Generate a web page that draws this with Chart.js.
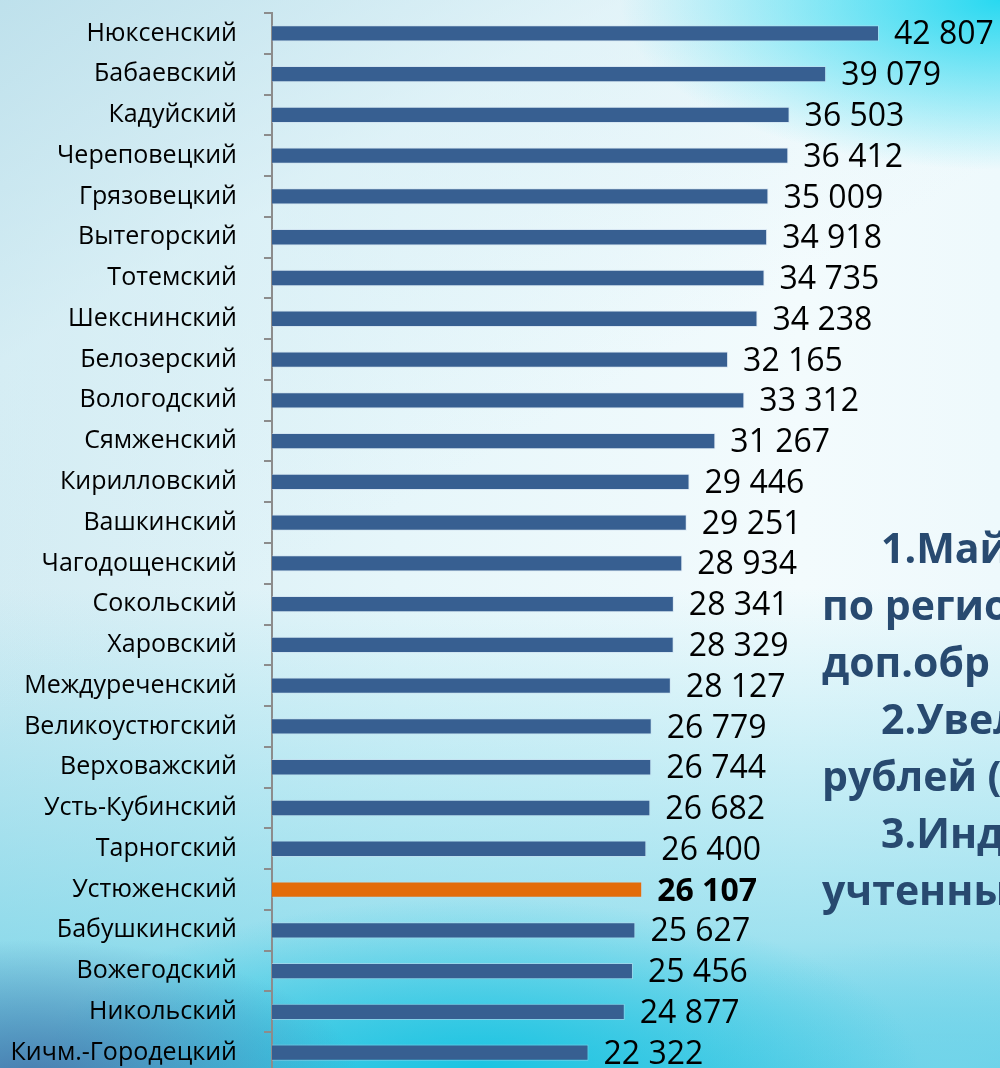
<!DOCTYPE html>
<html lang="ru">
<head>
<meta charset="utf-8">
<title>Районы</title>
<script src="https://cdn.jsdelivr.net/npm/chart.js@4/dist/chart.umd.min.js"></script>
<style>
  html, body { margin:0; padding:0; }
  body { width:1000px; height:1068px; overflow:hidden; position:relative; font-family:'Open Sans', sans-serif; }
  #bg {
    position:absolute; left:0; top:0; width:1000px; height:1068px;
    background:
      radial-gradient(ellipse 330px 140px at 30px 1080px, rgba(70,110,165,0.85), rgba(70,110,165,0) 100%),
      radial-gradient(ellipse 380px 170px at 1000px 0px, rgba(30,215,240,0.95), rgba(30,215,240,0) 100%),
      radial-gradient(ellipse 440px 170px at 480px 1068px, rgba(20,195,225,0.9), rgba(20,195,225,0) 100%),
      radial-gradient(ellipse 300px 130px at 950px 1068px, rgba(120,215,235,0.7), rgba(120,215,235,0) 100%),
      linear-gradient(150deg, rgba(185,222,234,0.8) 0%, rgba(215,238,245,0.5) 22%, rgba(240,250,252,0) 45%),
      linear-gradient(to bottom, rgba(0,0,0,0) 0%, rgba(0,0,0,0) 55%, rgba(90,205,228,0.55) 88%, rgba(60,195,225,0.8) 100%),
      linear-gradient(to right, #d3ecf3 0%, #e6f6fa 40%, #f3fbfd 80%, #eef9fc 100%);
  }
  #chartWrap { position:absolute; left:0; top:0; width:1000px; height:1080px; }
  .note { position:absolute; white-space:nowrap; font-family:'Open Sans', sans-serif; font-weight:700;
          font-size:41px; line-height:41px; color:#284a70; }
</style>
</head>
<body>
<div id="bg"></div>
<div id="chartWrap"><canvas id="c" width="1000" height="1080"></canvas></div>
<div class="note" style="left:881px; top:527px;">1.Май</div>
<div class="note" style="left:822px; top:584px;">по регио</div>
<div class="note" style="left:822px; top:641px;">доп.обр</div>
<div class="note" style="left:881px; top:698px;">2.Увел</div>
<div class="note" style="left:822px; top:755px;">рублей (</div>
<div class="note" style="left:881px; top:812px;">3.Инд</div>
<div class="note" style="left:822px; top:869px;">учтенны</div>
<script>
const categories = ['Нюксенский','Бабаевский','Кадуйский','Череповецкий','Грязовецкий','Вытегорский','Тотемский','Шекснинский','Белозерский','Вологодский','Сямженский','Кирилловский','Вашкинский','Чагодощенский','Сокольский','Харовский','Междуреченский','Великоустюгский','Верховажский','Усть-Кубинский','Тарногский','Устюженский','Бабушкинский','Вожегодский','Никольский','Кичм.-Городецкий'];
const values = [42807,39079,36503,36412,35009,34918,34735,34238,32165,33312,31267,29446,29251,28934,28341,28329,28127,26779,26744,26682,26400,26107,25627,25456,24877,22322];
const highlighted = ['Устюженский'];

const BLUE = '#375f91', ORANGE = '#e36c0a', AXIS = '#8c8c8c';
const fmt = v => String(v).replace(/\B(?=(\d{3})+(?!\d))/g, ' ');

const valueLabels = {
  id: 'valueLabels',
  afterDatasetsDraw(chart) {
    const ctx = chart.ctx;
    const meta = chart.getDatasetMeta(0);
    ctx.save();
    ctx.textAlign = 'left';
    ctx.textBaseline = 'middle';
    ctx.fillStyle = '#000';
    meta.data.forEach((bar, i) => {
      const hl = highlighted.includes(categories[i]);
      ctx.font = (hl ? '700 ' : '400 ') + '32px "Open Sans"';
      ctx.fillText(fmt(values[i]), bar.x + 15, bar.y + 2);
    });
    ctx.restore();
  }
};

new Chart(document.getElementById('c'), {
  type: 'bar',
  data: {
    labels: categories,
    datasets: [{
      data: values,
      backgroundColor: categories.map(c => highlighted.includes(c) ? ORANGE : BLUE),
      borderColor: 'rgba(200,215,235,0.5)',
      borderWidth: 1,
      barPercentage: 0.4,
      categoryPercentage: 1.0
    }]
  },
  options: {
    indexAxis: 'y',
    responsive: false,
    animation: false,
    devicePixelRatio: 1,
    layout: { padding: { top: 13, bottom: 7, left: 0, right: 0 } },
    plugins: { legend: { display: false }, tooltip: { enabled: false } },
    scales: {
      x: { display: false, min: 0, max: 51340 },
      y: {
        afterFit(scale) { scale.width = 272; scale.paddingTop = 0; scale.paddingBottom = 0; },
        grid: { display: true, drawOnChartArea: false, drawTicks: true, tickLength: 8, offset: true, color: AXIS, lineWidth: 2 },
        border: { display: true, color: AXIS, width: 2 },
        ticks: { color: '#000', padding: 27, font: { family: 'Open Sans', size: 25 }, autoSkip: false }
      }
    }
  },
  plugins: [valueLabels]
});
</script>
</body>
</html>
